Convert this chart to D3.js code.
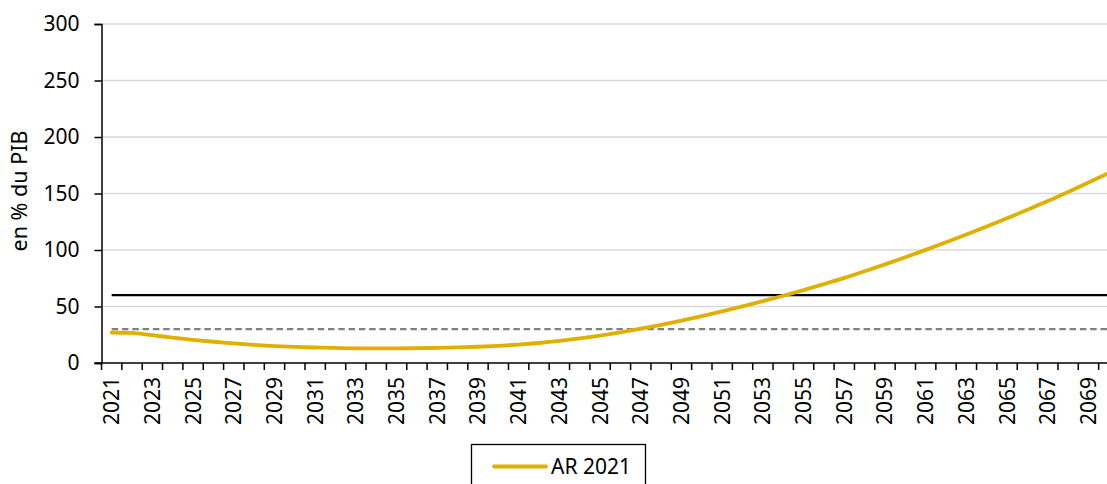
<!DOCTYPE html>
<html>
<head>
<meta charset="utf-8">
<script src="https://cdn.jsdelivr.net/npm/d3@7"></script>
<style>
  html, body { margin: 0; padding: 0; background: #fff; }
  svg { display: block; }
  text { font-family: "Noto Sans", "Open Sans", sans-serif; fill: #000; }
</style>
</head>
<body>
<svg id="chart" width="1107" height="484"></svg>
<script>
// Projection years
const years = d3.range(2021, 2071);

// Debt path, AR 2021 scenario (% of GDP)
const ar2021 = [
  27.0, 26.7, 24.6, 22.4, 20.5, 18.8, 17.3, 16.0, 15.0, 14.2,
  13.7, 13.3, 13.0, 12.9, 12.9, 13.1, 13.4, 13.8, 14.4, 15.2,
  16.3, 17.7, 19.5, 21.7, 24.3, 27.2, 30.4, 33.8, 37.5, 41.5,
  45.7, 50.1, 54.7, 59.5, 64.5, 69.8, 75.3, 81.2, 87.3, 93.6,
  100.1, 106.8, 113.7, 120.8, 128.1, 135.6, 143.3, 151.4, 159.7, 168.2
];

// Reference thresholds (% of GDP)
const thresholdSolid = 60;
const thresholdDashed = 30;

// Axis ticks
const yTicks = [0, 50, 100, 150, 200, 250, 300];
const xLabelYears = years.filter((d, i) => i % 2 === 0);

const seriesName = "AR 2021";
const yTitle = "en % du PIB";

const fontSize = 21;
const svg = d3.select("#chart");
const plotLeft = 101.5, plotTop = 24, plotBottom = 363;
const bandW = 20.35;

const x = d3.scaleBand()
  .domain(years)
  .range([plotLeft, plotLeft + years.length * bandW])
  .paddingInner(0).paddingOuter(0);
const cx = d => x(d) + x.bandwidth() / 2;

const y = d3.scaleLinear().domain([0, 300]).range([plotBottom, plotTop]);

const xEnd = plotLeft + years.length * bandW;

// Horizontal gridlines
svg.append("g")
  .selectAll("line")
  .data(yTicks.filter(d => d > 0))
  .join("line")
  .attr("x1", plotLeft).attr("x2", xEnd)
  .attr("y1", d => y(d)).attr("y2", d => y(d))
  .attr("stroke", "#d9d9d9").attr("stroke-width", 1.3);

// Y axis
const yAxis = svg.append("g")
  .attr("transform", `translate(${plotLeft},0)`)
  .call(d3.axisLeft(y).tickValues(yTicks).tickSize(7).tickPadding(15));
yAxis.select(".domain").attr("stroke", "#000").attr("stroke-width", 1.5);
yAxis.selectAll(".tick line").attr("stroke", "#000").attr("stroke-width", 1.5);
yAxis.selectAll(".tick text")
  .attr("font-size", fontSize)
  .style("font-family", '"Noto Sans", sans-serif')
  .attr("fill", "#000");

// X axis baseline and category-boundary ticks
const gx = svg.append("g");
gx.append("line")
  .attr("x1", plotLeft - 7).attr("x2", xEnd)
  .attr("y1", plotBottom).attr("y2", plotBottom)
  .attr("stroke", "#000").attr("stroke-width", 1.5);
const lastYear = years[years.length - 1];
gx.selectAll("line.tk")
  .data(years.concat([lastYear + 1]))
  .join("line")
  .attr("class", "tk")
  .attr("x1", d => d <= lastYear ? x(d) : xEnd)
  .attr("x2", d => d <= lastYear ? x(d) : xEnd)
  .attr("y1", plotBottom).attr("y2", plotBottom + 7)
  .attr("stroke", "#000").attr("stroke-width", 1.5);

// X tick labels, rotated
gx.selectAll("text")
  .data(xLabelYears)
  .join("text")
  .attr("transform", d => `translate(${cx(d) + 7.5},${plotBottom + 14}) rotate(-90)`)
  .attr("text-anchor", "end")
  .attr("font-size", fontSize)
  .text(d => d);

// Y axis title
svg.append("text")
  .attr("transform", `translate(27,191) rotate(-90)`)
  .attr("text-anchor", "middle")
  .attr("font-size", fontSize + 0.5)
  .text(yTitle);

// Threshold lines
const firstYear = years[0];
svg.append("line")
  .attr("x1", cx(firstYear)).attr("x2", cx(lastYear))
  .attr("y1", y(thresholdDashed)).attr("y2", y(thresholdDashed))
  .attr("stroke", "#808080").attr("stroke-width", 2.2)
  .attr("stroke-dasharray", "6.5,3.8");
svg.append("line")
  .attr("x1", cx(firstYear)).attr("x2", cx(lastYear))
  .attr("y1", y(thresholdSolid)).attr("y2", y(thresholdSolid))
  .attr("stroke", "#000").attr("stroke-width", 2.2);

// Debt path
const line = d3.line()
  .x((d, i) => cx(years[i]))
  .y(d => y(d))
  .curve(d3.curveMonotoneX);
svg.append("path")
  .datum(ar2021)
  .attr("d", line)
  .attr("fill", "none")
  .attr("stroke", "#dfb000")
  .attr("stroke-width", 3.8)
  .attr("stroke-linecap", "round");

// Legend
const lg = svg.append("g");
lg.append("rect")
  .attr("x", 471.5).attr("y", 444.5)
  .attr("width", 174).attr("height", 60)
  .attr("fill", "#fff").attr("stroke", "#000").attr("stroke-width", 1.3);
lg.append("line")
  .attr("x1", 494).attr("x2", 546)
  .attr("y1", 466.5).attr("y2", 466.5)
  .attr("stroke", "#dfb000").attr("stroke-width", 3.8)
  .attr("stroke-linecap", "round");
lg.append("text")
  .attr("x", 551).attr("y", 474)
  .attr("font-size", fontSize)
  .text(seriesName);
</script>
</body>
</html>
